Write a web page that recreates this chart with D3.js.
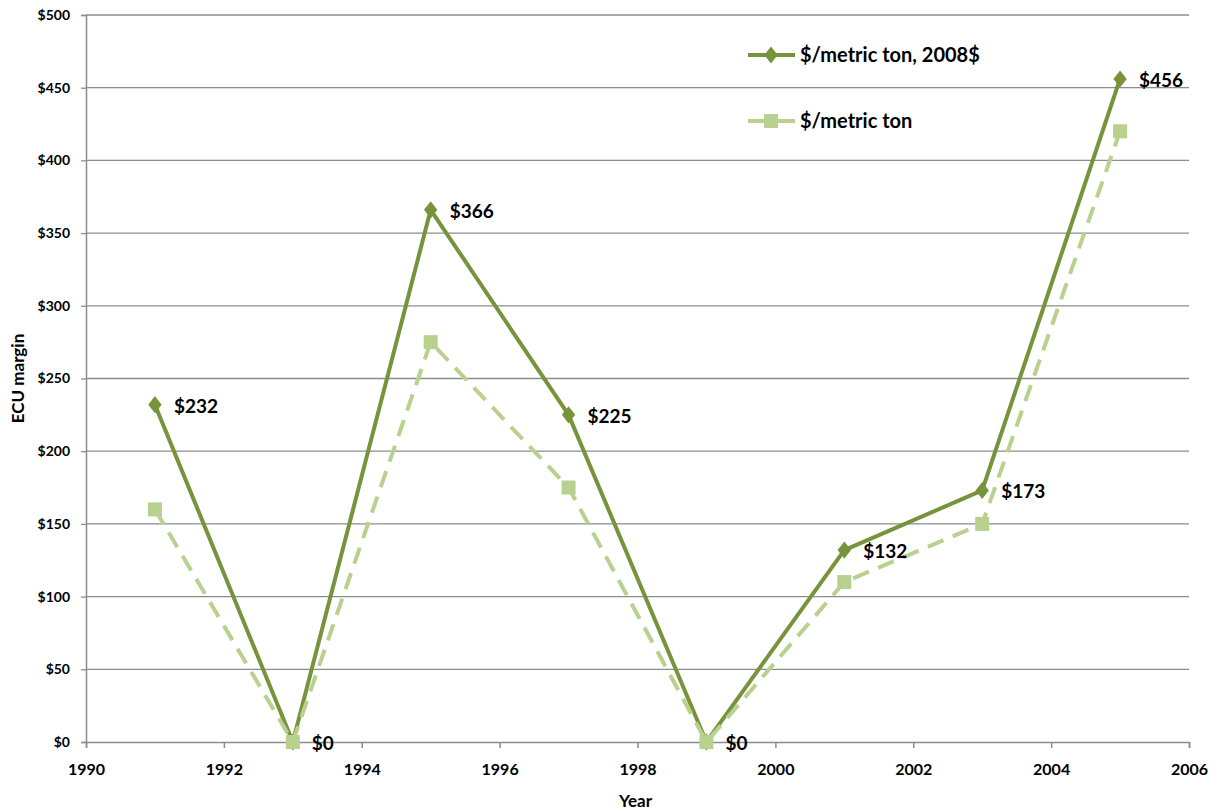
<!DOCTYPE html>
<html><head><meta charset="utf-8">
<script src="https://cdn.jsdelivr.net/npm/d3@7"></script>
<style>body{margin:0;background:#fff;} svg{display:block;} text{font-family:Lato,"Open Sans",sans-serif;font-weight:bold;fill:#000;}</style>
</head><body>
<svg id="chart" width="1218" height="812"></svg>
<script>
const years = [1991, 1993, 1995, 1997, 1999, 2001, 2003, 2005];
const real2008 = [232, 0, 366, 225, 0, 132, 173, 456];
const nominal = [160, 0, 275, 175, 0, 110, 150, 420];
const seriesNames = ["$/metric ton, 2008$", "$/metric ton"];
const xTicks = [1990, 1992, 1994, 1996, 1998, 2000, 2002, 2004, 2006];
const yTicks = [0, 50, 100, 150, 200, 250, 300, 350, 400, 450, 500];
const xTitle = "Year";
const yTitle = "ECU margin";

(function () {
const svg = d3.select("#chart");
const mLeft = 86, mRight = 1189, mTop = 15, mBottom = 742;
const x = d3.scaleLinear().domain([1990, 2006]).range([mLeft, mRight]);
const y = d3.scaleLinear().domain([0, 500]).range([mBottom, mTop]);
const darkGreen = "#77933C", lightGreen = "#B9D18F";
const grid = "#8C8C8C";

// gridlines
svg.append("g").selectAll("line").data(yTicks.filter(d => d > 0)).join("line")
  .attr("x1", mLeft).attr("x2", mRight).attr("y1", d => y(d)).attr("y2", d => y(d))
  .attr("stroke", grid).attr("stroke-width", 1.3);

// y axis
const yAxis = svg.append("g").attr("transform", `translate(${mLeft},0)`)
  .call(d3.axisLeft(y).tickValues(yTicks).tickFormat(d => "$" + d).tickSize(5).tickPadding(11));
yAxis.select(".domain").attr("stroke", grid).attr("stroke-width", 1.5);
yAxis.selectAll(".tick line").attr("stroke", grid).attr("stroke-width", 1.3);
yAxis.selectAll("text").style("font-size", "14px").style("font-family", "Lato").style("font-weight", "bold").attr("fill", "#000");

// x axis
const xAxis = svg.append("g").attr("transform", `translate(0,${mBottom})`)
  .call(d3.axisBottom(x).tickValues(xTicks).tickFormat(d3.format("d")).tickSize(6).tickPadding(16));
xAxis.select(".domain").attr("stroke", grid).attr("stroke-width", 1.5);
xAxis.selectAll(".tick line").attr("stroke", grid).attr("stroke-width", 1.5);
xAxis.selectAll("text").style("font-size", "16px").style("font-family", "Lato").style("font-weight", "bold").attr("fill", "#000");

// axis titles
svg.append("text").attr("x", (mLeft + mRight) / 2 - 2).attr("y", 807).attr("text-anchor", "middle")
  .style("font-size", "17px").text(xTitle);
svg.append("text").attr("transform", `translate(24,${(mTop + mBottom) / 2}) rotate(-90)`).attr("text-anchor", "middle")
  .style("font-size", "17px").text(yTitle);

const line = d3.line().x(d => x(d[0])).y(d => y(d[1]));
const d1 = years.map((yr, i) => [yr, real2008[i]]);
const d2 = years.map((yr, i) => [yr, nominal[i]]);

// series 1 solid with diamonds
svg.append("path").datum(d1).attr("d", line).attr("fill", "none")
  .attr("stroke", darkGreen).attr("stroke-width", 4).attr("stroke-linejoin", "round");
const diamond = d3.symbol().type(d3.symbolDiamond).size(85);
svg.append("g").selectAll("path").data(d1).join("path")
  .attr("d", diamond).attr("transform", d => `translate(${x(d[0])},${y(d[1])}) scale(1.35,1)`)
  .attr("fill", darkGreen);

// series 2 dashed with squares
svg.append("path").datum(d2).attr("d", line).attr("fill", "none")
  .attr("stroke", lightGreen).attr("stroke-width", 4).attr("stroke-dasharray", "17,10");
svg.append("g").selectAll("rect").data(d2).join("rect")
  .attr("x", d => x(d[0]) - 7).attr("y", d => y(d[1]) - 7).attr("width", 14).attr("height", 14)
  .attr("fill", lightGreen);

// data labels
svg.append("g").selectAll("text").data(d1).join("text")
  .attr("x", d => x(d[0]) + 19).attr("y", d => y(d[1]) + 8)
  .style("font-size", "19px").text(d => "$" + d[1]);

// legend
const lg = [{name: seriesNames[0], yy: 55, c: darkGreen, t: "d"}, {name: seriesNames[1], yy: 121, c: lightGreen, t: "s"}];
lg.forEach(l => {
  svg.append("line").attr("x1", 748).attr("x2", 795).attr("y1", l.yy).attr("y2", l.yy)
    .attr("stroke", l.c).attr("stroke-width", 4);
  if (l.t === "d") {
    svg.append("path").attr("d", diamond).attr("transform", `translate(771,${l.yy}) scale(1.35,1)`).attr("fill", l.c);
  } else {
    svg.append("rect").attr("x", 764).attr("y", l.yy - 7).attr("width", 14).attr("height", 14).attr("fill", l.c);
  }
  svg.append("text").attr("x", 800).attr("y", l.yy + 7).style("font-size", "20px").text(l.name);
});
})();
</script>
</body></html>
